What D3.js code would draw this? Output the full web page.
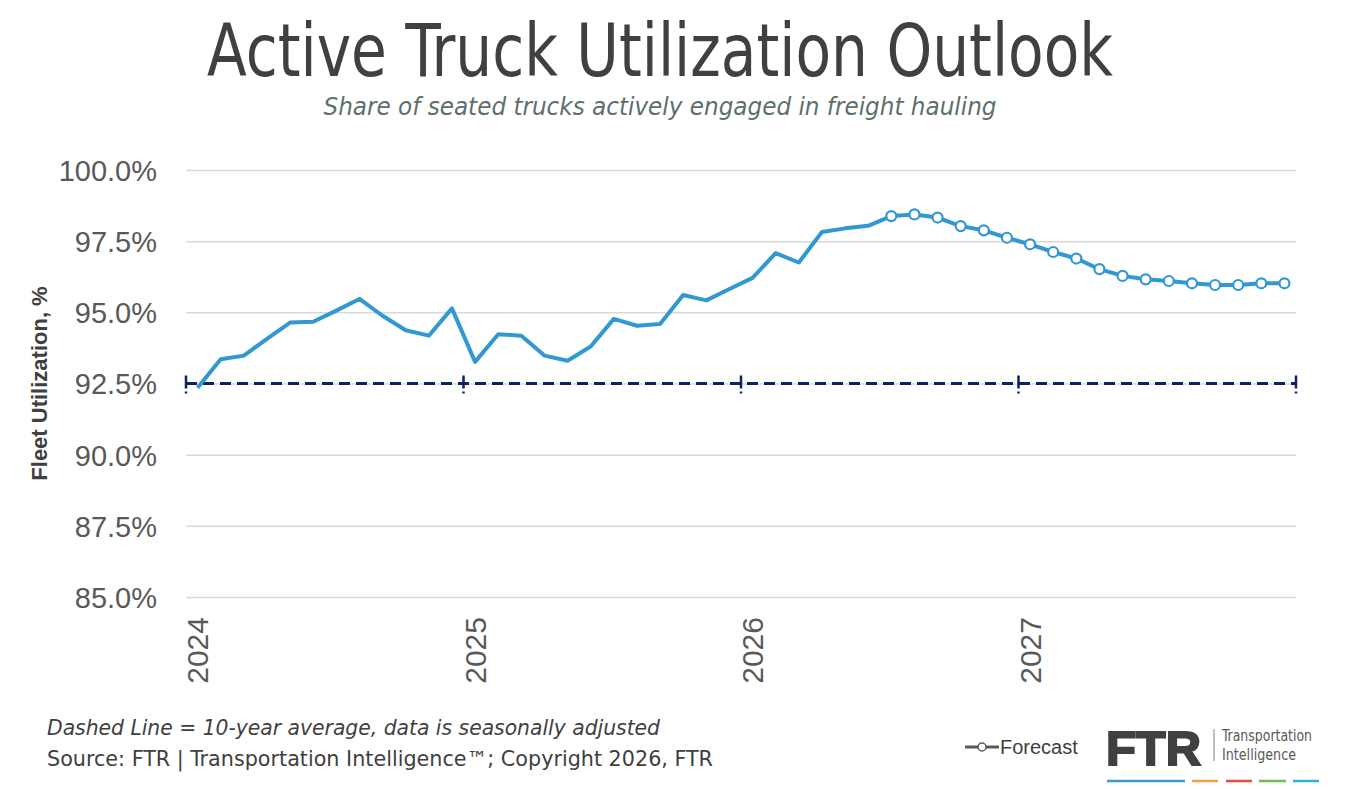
<!DOCTYPE html>
<html>
<head>
<meta charset="utf-8">
<script src="https://cdn.jsdelivr.net/npm/d3@7"></script>
<style>
  body { margin: 0; background: #ffffff; }
</style>
</head>
<body>
<div id="chart"></div>
<script>
// chart data
var yearLabels = ['2024', '2025', '2026', '2027'];
var monthLabels = ['Jan', 'Feb', 'Mar', 'Apr', 'May', 'Jun', 'Jul', 'Aug', 'Sep', 'Oct', 'Nov', 'Dec'];
var utilization = [
    92.35, 93.35, 93.48, 94.07, 94.64, 94.67, 95.06, 95.47, 94.88, 94.37, 94.18, 95.14,
    93.26, 94.23, 94.18, 93.48, 93.30, 93.80, 94.77, 94.53, 94.59, 95.61, 95.42, 95.82,
    96.21, 97.08, 96.75, 97.82, 97.95, 98.04, 98.38, 98.44, 98.33, 98.03, 97.88, 97.62,
    97.39, 97.12, 96.89, 96.52, 96.28, 96.16, 96.10, 96.02, 95.96, 95.96, 96.02, 96.02
];
var forecastStart = 'Jul 2026';
var tenYearAverage = 92.5;
var yTicks = [85, 87.5, 90, 92.5, 95, 97.5, 100];

var categories = [];
yearLabels.forEach(function (y) {
    monthLabels.forEach(function (m) { categories.push(m + ' ' + y); });
});

var width = 1347;
var height = 789;
var lineColor = '#3198d2';
var avgColor = '#0c2261';

var xScale = d3.scaleBand()
    .domain(categories)
    .range([186, 1296]);
var yScale = d3.scaleLinear()
    .domain([85, 100])
    .range([597, 170]);

document.addEventListener('DOMContentLoaded', function () {
    var svg = d3.select('#chart')
        .append('svg')
        .attr('width', width)
        .attr('height', height);

    drawTitle(svg);
    drawYAxis(svg);
    drawAverage(svg);
    drawXLabels(svg);
    drawLine(svg);
    drawLegend(svg);
    drawLogo(svg);
    drawNotes(svg);
});

function cx(c) {
    return xScale(c) + xScale.bandwidth() / 2;
}

function drawTitle(svg) {
    svg.append('text')
        .attr('x', 660)
        .attr('y', 76)
        .attr('text-anchor', 'middle')
        .attr('textLength', 906)
        .attr('lengthAdjust', 'spacingAndGlyphs')
        .style('font-family', '"DejaVu Sans Condensed", "DejaVu Sans", sans-serif')
        .style('font-size', '73px')
        .style('fill', '#404040')
        .text('Active Truck Utilization Outlook');

    svg.append('text')
        .attr('x', 660)
        .attr('y', 115)
        .attr('text-anchor', 'middle')
        .attr('textLength', 673)
        .attr('lengthAdjust', 'spacingAndGlyphs')
        .style('font-family', '"DejaVu Sans Condensed", "DejaVu Sans", sans-serif')
        .style('font-style', 'italic')
        .style('font-size', '24px')
        .style('fill', '#5b706c')
        .text('Share of seated trucks actively engaged in freight hauling');
}

function drawYAxis(svg) {
    var yAxis = d3.axisLeft(yScale)
        .tickValues(yTicks)
        .tickSize(-(1296 - 186))
        .tickPadding(29)
        .tickFormat(function (d) { return d3.format('.1f')(d) + '%'; });

    var g = svg.append('g')
        .attr('class', 'y-axis')
        .attr('transform', 'translate(186,0)')
        .call(yAxis);

    g.select('.domain').remove();
    g.selectAll('.tick line')
        .attr('stroke', '#d9d9d9')
        .attr('stroke-width', 1.5);
    g.selectAll('.tick text')
        .attr('dy', '0.36em')
        .style('font-family', '"Liberation Sans", Arial, sans-serif')
        .style('font-size', '29px')
        .style('fill', '#595959');

    svg.append('text')
        .attr('transform', 'translate(47,' + yScale(92.5) + ') rotate(-90)')
        .attr('text-anchor', 'middle')
        .style('font-family', '"Liberation Sans", Arial, sans-serif')
        .style('font-weight', 'bold')
        .style('font-size', '22px')
        .style('fill', '#404040')
        .text('Fleet Utilization, %');
}

function drawAverage(svg) {
    var y = yScale(tenYearAverage);
    svg.append('line')
        .attr('x1', 186)
        .attr('x2', 1296)
        .attr('y1', y)
        .attr('y2', y)
        .attr('stroke', avgColor)
        .attr('stroke-width', 3)
        .attr('stroke-dasharray', '11,6');

    var tickX = yearLabels.map(function (yr) { return xScale('Jan ' + yr); });
    tickX.push(xScale.range()[1]);

    svg.selectAll('.yearTick')
        .data(tickX)
        .enter()
        .append('line')
        .attr('class', 'yearTick')
        .attr('x1', function (d) { return d; })
        .attr('x2', function (d) { return d; })
        .attr('y1', y - 8)
        .attr('y2', y + 10)
        .attr('stroke', avgColor)
        .attr('stroke-width', 2.5)
        .attr('stroke-dasharray', '13,3,2');
}

function drawXLabels(svg) {
    svg.selectAll('.yearLabel')
        .data(yearLabels)
        .enter()
        .append('text')
        .attr('class', 'yearLabel')
        .attr('transform', function (d) {
            return 'translate(' + cx('Jan ' + d) + ',617) rotate(-90)';
        })
        .attr('text-anchor', 'end')
        .attr('dy', '0.36em')
        .style('font-family', '"Liberation Sans", Arial, sans-serif')
        .style('font-size', '30px')
        .style('fill', '#595959')
        .text(function (d) { return d; });
}

function drawLine(svg) {
    var data = categories.map(function (c, i) {
        return { cat: c, value: utilization[i] };
    });
    var fIndex = categories.indexOf(forecastStart);

    var line = d3.line()
        .x(function (d) { return cx(d.cat); })
        .y(function (d) { return yScale(d.value); });

    svg.append('path')
        .datum(data)
        .attr('d', line)
        .attr('fill', 'none')
        .attr('stroke', lineColor)
        .attr('stroke-width', 4)
        .attr('stroke-linejoin', 'round');

    svg.selectAll('.forecastPoint')
        .data(data.slice(fIndex))
        .enter()
        .append('circle')
        .attr('class', 'forecastPoint')
        .attr('cx', function (d) { return cx(d.cat); })
        .attr('cy', function (d) { return yScale(d.value); })
        .attr('r', 5)
        .attr('fill', '#ffffff')
        .attr('stroke', lineColor)
        .attr('stroke-width', 2.2);
}

function drawLegend(svg) {
    var legend = svg.append('g')
        .attr('class', 'legend')
        .attr('transform', 'translate(965,747)');

    legend.append('line')
        .attr('x1', 0)
        .attr('x2', 34)
        .attr('stroke', '#595959')
        .attr('stroke-width', 3);

    legend.append('circle')
        .attr('cx', 17)
        .attr('r', 4)
        .attr('fill', '#ffffff')
        .attr('stroke', '#595959')
        .attr('stroke-width', 1.5);

    legend.append('text')
        .attr('x', 35)
        .attr('y', 0)
        .attr('dy', '0.36em')
        .style('font-family', '"Liberation Sans", Arial, sans-serif')
        .style('font-size', '20px')
        .style('fill', '#404040')
        .text('Forecast');
}

function drawLogo(svg) {
    var logo = svg.append('g').attr('class', 'logo');

    logo.append('text')
        .attr('x', 1106)
        .attr('y', 765)
        .attr('textLength', 95)
        .attr('lengthAdjust', 'spacingAndGlyphs')
        .style('font-family', '"Liberation Sans", Arial, sans-serif')
        .style('font-weight', 'bold')
        .style('font-size', '48px')
        .style('fill', '#404040')
        .style('stroke', '#404040')
        .style('stroke-width', 2)
        .text('FTR');

    logo.append('line')
        .attr('x1', 1214)
        .attr('x2', 1214)
        .attr('y1', 729)
        .attr('y2', 761)
        .attr('stroke', '#7f7f7f')
        .attr('stroke-width', 1);

    logo.append('text')
        .attr('x', 1222)
        .attr('y', 741)
        .attr('textLength', 90)
        .attr('lengthAdjust', 'spacingAndGlyphs')
        .style('font-family', '"DejaVu Sans Condensed", "DejaVu Sans", sans-serif')
        .style('font-size', '15px')
        .style('fill', '#595959')
        .text('Transportation');

    logo.append('text')
        .attr('x', 1222)
        .attr('y', 760)
        .attr('textLength', 74)
        .attr('lengthAdjust', 'spacingAndGlyphs')
        .style('font-family', '"DejaVu Sans Condensed", "DejaVu Sans", sans-serif')
        .style('font-size', '15px')
        .style('fill', '#595959')
        .text('Intelligence');

    var bars = [
        { x1: 1107, x2: 1185, color: '#3a9ad9' },
        { x1: 1192, x2: 1218, color: '#f4a04a' },
        { x1: 1226, x2: 1252, color: '#e84b3c' },
        { x1: 1259, x2: 1286, color: '#6cbd54' },
        { x1: 1293, x2: 1319, color: '#2bb0e6' }
    ];
    logo.selectAll('.bar')
        .data(bars)
        .enter()
        .append('line')
        .attr('x1', function (d) { return d.x1; })
        .attr('x2', function (d) { return d.x2; })
        .attr('y1', 781)
        .attr('y2', 781)
        .attr('stroke', function (d) { return d.color; })
        .attr('stroke-width', 2.5);
}

function drawNotes(svg) {
    svg.append('text')
        .attr('x', 47)
        .attr('y', 735)
        .attr('textLength', 613)
        .attr('lengthAdjust', 'spacingAndGlyphs')
        .style('font-family', '"DejaVu Sans Condensed", "DejaVu Sans", sans-serif')
        .style('font-style', 'italic')
        .style('font-size', '21px')
        .style('fill', '#404040')
        .text('Dashed Line = 10-year average, data is seasonally adjusted');

    svg.append('text')
        .attr('x', 47)
        .attr('y', 766)
        .attr('textLength', 666)
        .attr('lengthAdjust', 'spacingAndGlyphs')
        .style('font-family', '"DejaVu Sans Condensed", "DejaVu Sans", sans-serif')
        .style('font-size', '21px')
        .style('fill', '#404040')
        .text('Source: FTR | Transportation Intelligence\u2122; Copyright 2026, FTR');
}
</script>
</body>
</html>
